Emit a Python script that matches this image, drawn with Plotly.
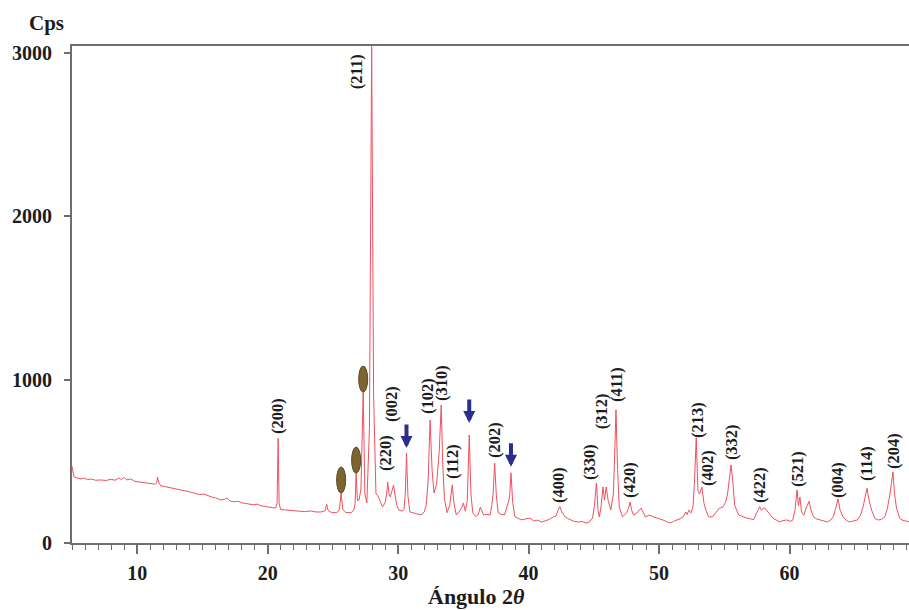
import plotly.graph_objects as go

# Diffractogram trace: 2-theta (degrees) and intensity (counts per second)
two_theta = [
    5.0, 5.05, 5.15, 5.4, 5.7, 5.9, 6.2, 6.5, 6.8, 7.2, 7.6, 8.0, 8.3, 8.6, 8.8, 9.0, 9.2, 9.5, 9.8,
    10.2, 10.6, 11.0, 11.4, 11.5, 11.55, 11.65, 11.8, 12.1, 12.4, 12.7, 13.0, 13.3, 13.6, 13.9,
    14.2, 14.5, 14.8, 15.1, 15.4, 15.7, 16.0, 16.4, 16.7, 16.9, 17.1, 17.4, 17.7, 18.0, 18.3,
    18.6, 18.9, 19.2, 19.5, 19.8, 20.1, 20.4, 20.6, 20.72, 20.8, 20.88, 21.0, 21.3, 21.7, 22.1,
    22.5, 22.9, 23.3, 23.7, 24.1, 24.4, 24.52, 24.62, 24.9, 25.3, 25.5, 25.63, 25.76, 26.0,
    26.4, 26.6, 26.7, 26.78, 26.88, 27.0, 27.15, 27.32, 27.45, 27.6, 27.8, 27.97, 28.12, 28.3,
    28.45, 28.6, 28.8, 29.0, 29.12, 29.2, 29.3, 29.4, 29.55, 29.65, 29.75, 29.9, 30.05, 30.3,
    30.45, 30.55, 30.64, 30.75, 30.9, 31.2, 31.5, 31.75, 32.0, 32.15, 32.3, 32.45, 32.6, 32.75,
    32.95, 33.15, 33.3, 33.42, 33.55, 33.75, 33.95, 34.05, 34.15, 34.27, 34.45, 34.65, 34.75,
    34.9, 35.0, 35.15, 35.3, 35.45, 35.58, 35.72, 35.95, 36.15, 36.3, 36.42, 36.55, 36.8, 37.05,
    37.18, 37.28, 37.4, 37.52, 37.66, 37.9, 38.15, 38.3, 38.45, 38.55, 38.65, 38.78, 38.95,
    39.2, 39.5, 39.8, 40.1, 40.4, 40.7, 41.0, 41.3, 41.6, 41.9, 42.1, 42.25, 42.4, 42.55, 42.8,
    43.0, 43.2, 43.5, 43.8, 44.1, 44.4, 44.65, 44.9, 45.05, 45.2, 45.32, 45.42, 45.55, 45.7,
    45.82, 45.95, 46.1, 46.3, 46.5, 46.6, 46.7, 46.82, 46.95, 47.2, 47.5, 47.65, 47.78, 47.9,
    48.05, 48.3, 48.5, 48.62, 48.8, 48.95, 49.3, 49.6, 49.85, 50.1, 50.3, 50.6, 50.85, 51.1,
    51.4, 51.65, 51.85, 52.05, 52.15, 52.3, 52.45, 52.6, 52.72, 52.85, 52.98, 53.1, 53.28,
    53.45, 53.6, 53.8, 54.1, 54.35, 54.6, 54.9, 55.1, 55.25, 55.4, 55.52, 55.65, 55.8, 56.1,
    56.4, 56.7, 57.0, 57.25, 57.45, 57.6, 57.72, 57.85, 57.98, 58.1, 58.25, 58.4, 58.7, 59.0,
    59.25, 59.5, 59.8, 60.05, 60.25, 60.42, 60.58, 60.68, 60.8, 60.92, 61.1, 61.3, 61.5, 61.65,
    61.85, 62.05, 62.3, 62.6, 62.9, 63.15, 63.35, 63.5, 63.72, 63.88, 64.1, 64.35, 64.6, 64.9,
    65.2, 65.45, 65.65, 65.94, 66.1, 66.3, 66.55, 66.8, 67.05, 67.3, 67.5, 67.7, 67.93, 68.05,
    68.2, 68.45, 68.7, 69.0, 69.2,
]
counts = [
    470, 440, 405, 398, 392, 398, 388, 392, 384, 386, 383, 390, 384, 398, 388, 402, 386, 392, 378,
    373, 368, 364, 360, 368, 404, 372, 350, 346, 340, 336, 330, 326, 320, 316,
    310, 305, 296, 300, 290, 282, 276, 264, 268, 275, 258, 252, 256, 246, 242,
    240, 234, 238, 228, 224, 222, 216, 214, 240, 640, 240, 205, 202, 200, 197,
    194, 192, 196, 190, 190, 198, 238, 200, 186, 186, 205, 306, 205, 186,
    186, 200, 240, 428, 260, 262, 330, 924, 300, 245, 700, 3040, 900, 300,
    290, 260, 222, 245, 300, 373, 300, 282, 320, 355, 300, 230, 202, 195,
    205, 300, 551, 290, 190, 184, 178, 172, 190, 230, 380, 753, 450, 306,
    360, 560, 845, 480, 270, 186, 230, 290, 355, 250, 172, 190, 205,
    220, 245, 195, 260, 661, 300, 185, 162, 175, 220, 200, 172, 175, 172,
    230, 300, 490, 300, 186, 175, 172, 210, 250, 290, 430, 250, 162,
    150, 142, 148, 153, 135, 140, 128, 138, 145, 160, 165, 200, 222, 190, 160,
    150, 142, 132, 128, 132, 122, 128, 152, 230, 367, 200, 160, 220, 343,
    263, 343, 260, 202, 300, 550, 815, 450, 220, 160, 184, 210, 251, 200,
    171, 184, 200, 214, 185, 160, 171, 158, 153, 148, 141, 130, 122, 132,
    141, 150, 160, 190, 175, 202, 184, 220, 380, 645, 320, 300, 343,
    240, 200, 160, 160, 185, 212, 220, 250, 300, 400, 478, 380, 230, 172,
    160, 153, 148, 142, 180, 208, 222, 200, 212, 214, 200, 184, 155, 140,
    129, 137, 141, 133, 140, 200, 325, 230, 282, 190, 170, 220, 255, 200,
    160, 148, 141, 136, 129, 140, 160, 200, 270, 200, 160, 140, 129, 135,
    141, 170, 225, 335, 260, 200, 150, 141, 145, 160, 210, 300, 435, 300,
    215, 150, 138, 133, 129,
]

# Miller-index labels and where each one sits
hkl_labels = ["(211)", "(200)", "(220)", "(002)", "(102)", "(310)", "(112)", "(202)",
              "(400)", "(330)", "(312)", "(411)", "(420)", "(213)", "(402)", "(332)",
              "(422)", "(521)", "(004)", "(114)", "(204)"]
label_2theta = [26.86, 20.80, 29.00, 29.46, 32.22, 33.37, 34.21, 37.43,
                42.26, 44.71, 45.56, 46.70, 47.78, 52.91, 53.68, 55.52,
                57.66, 60.57, 63.72, 65.94, 67.93]
label_counts = [2884, 778, 551, 851, 900, 980, 496, 631,
                355, 496, 808, 967, 386, 753, 459, 618,
                355, 453, 386, 490, 563]

# Peaks flagged with a brown marker and with a blue arrow
marked_peaks = [25.63, 26.78, 27.32]
arrow_peaks = [30.64, 35.45, 38.65]
arrow_gaps = [5, 12, 6]

peak_height = dict(zip(two_theta, counts))

SERIF = "Liberation Serif"
AXIS_GREY = "#6e6e6e"
TEXT = "#1c1c1c"

fig = go.Figure()
fig.add_trace(go.Scatter(
    x=two_theta, y=counts, mode="lines",
    line=dict(color="#f0505f", width=1),
    hoverinfo="skip", showlegend=False,
))

annotations = []
for txt, xv, yv in zip(hkl_labels, label_2theta, label_counts):
    annotations.append(dict(
        x=xv, y=yv, xref="x", yref="y", text=txt, textangle=-90,
        showarrow=False, xanchor="center", yanchor="middle",
        font=dict(family=SERIF, size=16.5, color=TEXT, weight="bold"),
    ))

for xv, gap in zip(arrow_peaks, arrow_gaps):
    annotations.append(dict(
        x=xv, y=peak_height[xv], xref="x", yref="y", text="",
        showarrow=True, arrowhead=2, arrowsize=0.6, arrowwidth=4,
        arrowcolor="#2b2e8c", ax=0, ay=-(25 + gap), standoff=gap,
    ))

annotations.append(dict(
    x=-0.031, y=1.046, xref="paper", yref="paper", text="Cps",
    showarrow=False, xanchor="center", yanchor="middle",
    font=dict(family=SERIF, size=21, color=TEXT, weight="bold"),
))
annotations.append(dict(
    x=36.0, y=-0.108, xref="x", yref="paper", text="Ángulo 2<i>θ</i>",
    showarrow=False, xanchor="center", yanchor="middle",
    font=dict(family=SERIF, size=22, color=TEXT, weight="bold"),
))

shapes = []
for xv in marked_peaks:
    shapes.append(dict(
        type="circle", xref="x", yref="y",
        xsizemode="pixel", ysizemode="pixel",
        xanchor=xv, yanchor=peak_height[xv],
        x0=-4.5, x1=4.5, y0=0, y1=26,
        fillcolor="#7d6530", line=dict(color="#5c4a1f", width=1),
    ))

fig.update_layout(
    width=909, height=610,
    margin=dict(l=72, r=0, t=46, b=67),
    paper_bgcolor="white", plot_bgcolor="white",
    annotations=annotations, shapes=shapes,
    xaxis=dict(
        range=[5, 69.16], showgrid=False, zeroline=False,
        showline=True, linecolor=AXIS_GREY, linewidth=2, mirror=True,
        tickvals=[10, 20, 30, 40, 50, 60], ticks="outside", ticklen=9,
        tickwidth=1.5, tickcolor=AXIS_GREY, ticklabelstandoff=2,
        minor=dict(dtick=1, tick0=0, ticks="outside", ticklen=5,
                   tickwidth=1, tickcolor=AXIS_GREY),
        tickfont=dict(family=SERIF, size=20, color=TEXT, weight="bold"),
    ),
    yaxis=dict(
        range=[0, 3043], showgrid=False, zeroline=False,
        showline=True, linecolor=AXIS_GREY, linewidth=2,
        tickvals=[0, 1000, 2000, 3000], ticks="outside", ticklen=6,
        tickwidth=1.5, tickcolor=AXIS_GREY, ticklabelstandoff=8,
        tickfont=dict(family=SERIF, size=20, color=TEXT, weight="bold"),
    ),
)

fig.write_html("out.html")
